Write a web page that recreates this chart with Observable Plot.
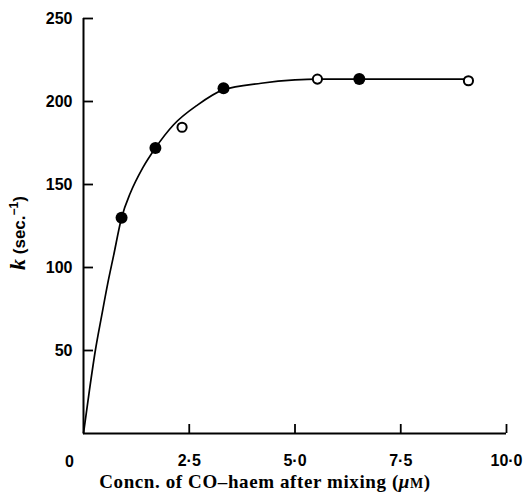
<!DOCTYPE html>
<html><head><meta charset="utf-8">
<script src="https://cdn.jsdelivr.net/npm/d3@7"></script>
<script src="https://cdn.jsdelivr.net/npm/@observablehq/plot@0.6"></script>
<style>body{margin:0;background:#fff}</style>
</head><body><div id="chart"></div>
<script>
// fitted curve
const curveX = [0, 0.14, 0.28, 0.43, 0.57, 0.71, 0.9, 1.11, 1.4, 1.7, 2.13, 2.7, 3.3, 4.2, 5.0, 5.5, 7.0, 9.1];
const curveK = [0, 26, 50, 71, 90, 107, 130, 145, 160, 172, 186, 198, 207, 211, 213, 213.5, 213.5, 213.5];
// filled circles
const filledX = [0.9, 1.70, 3.31, 6.52];
const filledK = [130, 172, 208, 213.5];
// open circles
const openX = [2.33, 5.53, 9.10];
const openK = [184.5, 213.5, 212.5];
// ticks
const xTicks = [2.5, 5, 7.5, 10];
const xTickLabels = ["2·5", "5·0", "7·5", "10·0"];
const yTicks = [50, 100, 150, 200, 250];
const originLabel = ["0"];
const xLabelParts = ["Concn. of CO–haem after mixing (", "μ", "M", ")"];
const yLabelParts = ["k", " (sec.", "−1", ")"];

const curve = curveX.map((x, i) => ({x, k: curveK[i]}));
const filled = filledX.map((x, i) => ({x, k: filledK[i]}));
const open = openX.map((x, i) => ({x, k: openK[i]}));

const tickFont = "'Liberation Sans', Arial, sans-serif";
const chart = Plot.plot({
  width: 526, height: 492,
  marginLeft: 83, marginRight: 20, marginTop: 18, marginBottom: 59,
  x: {domain: [0, 10]},
  y: {domain: [0, 250]},
  style: {background: "#fff", color: "#000", fontFamily: tickFont},
  marks: [
    Plot.axisX(xTicks, {tickSize: -9, tickPadding: 30, strokeWidth: 1.8, fontSize: 16, fontWeight: "bold",
      tickFormat: d => xTickLabels[xTicks.indexOf(d)], label: null}),
    Plot.axisY(yTicks, {tickSize: -10, tickPadding: 21, strokeWidth: 1.8, fontSize: 16, fontWeight: "bold",
      tickFormat: d => String(d), label: null}),
    Plot.text(originLabel, {x: 0, y: 0, text: d => d, dx: -14, dy: 28, fontSize: 16, fontWeight: "bold"}),
    Plot.ruleY([0], {strokeWidth: 2}),
    Plot.ruleX([0], {strokeWidth: 2}),
    Plot.line(curve, {x: "x", y: "k", curve: "monotone-x", strokeWidth: 1.7, stroke: "#000"}),
    Plot.dot(filled, {x: "x", y: "k", r: 6, fill: "#000", stroke: "none"}),
    Plot.dot(open, {x: "x", y: "k", r: 4.6, fill: "#fff", stroke: "#000", strokeWidth: 2}),
    Plot.text([xLabelParts.join("")], {frameAnchor: "bottom", textAnchor: "middle", lineAnchor: "middle",
      dx: -30, dy: 48, className: "xlab", fontSize: 19}),
    Plot.text([yLabelParts.join("")], {frameAnchor: "left", textAnchor: "middle", lineAnchor: "middle",
      dx: -64, dy: 7, rotate: -90, className: "ylab", fontSize: 17})
  ]
});
document.getElementById("chart").appendChild(chart);

// rich text styling of axis titles
const xl = d3.select(chart).select(".xlab text");
xl.text(null).attr("font-family", "'Liberation Serif', 'DejaVu Serif', serif").attr("font-weight", "bold")
  .attr("letter-spacing", 0.6);
xl.append("tspan").text(xLabelParts[0]);
xl.append("tspan").text(xLabelParts[1]).attr("font-style", "italic");
xl.append("tspan").text(xLabelParts[2]).attr("font-size", 14);
xl.append("tspan").text(xLabelParts[3]);

const yl = d3.select(chart).select(".ylab text");
yl.text(null).attr("font-weight", "bold");
yl.append("tspan").text(yLabelParts[0]).attr("font-style", "italic").attr("font-family", "'Liberation Serif', serif").attr("font-size", 22);
yl.append("tspan").text(yLabelParts[1]).attr("font-family", tickFont);
yl.append("tspan").text(yLabelParts[2]).attr("font-size", 12).attr("dy", -7);
yl.append("tspan").text(yLabelParts[3]).attr("dy", 7);
</script>
</body></html>
